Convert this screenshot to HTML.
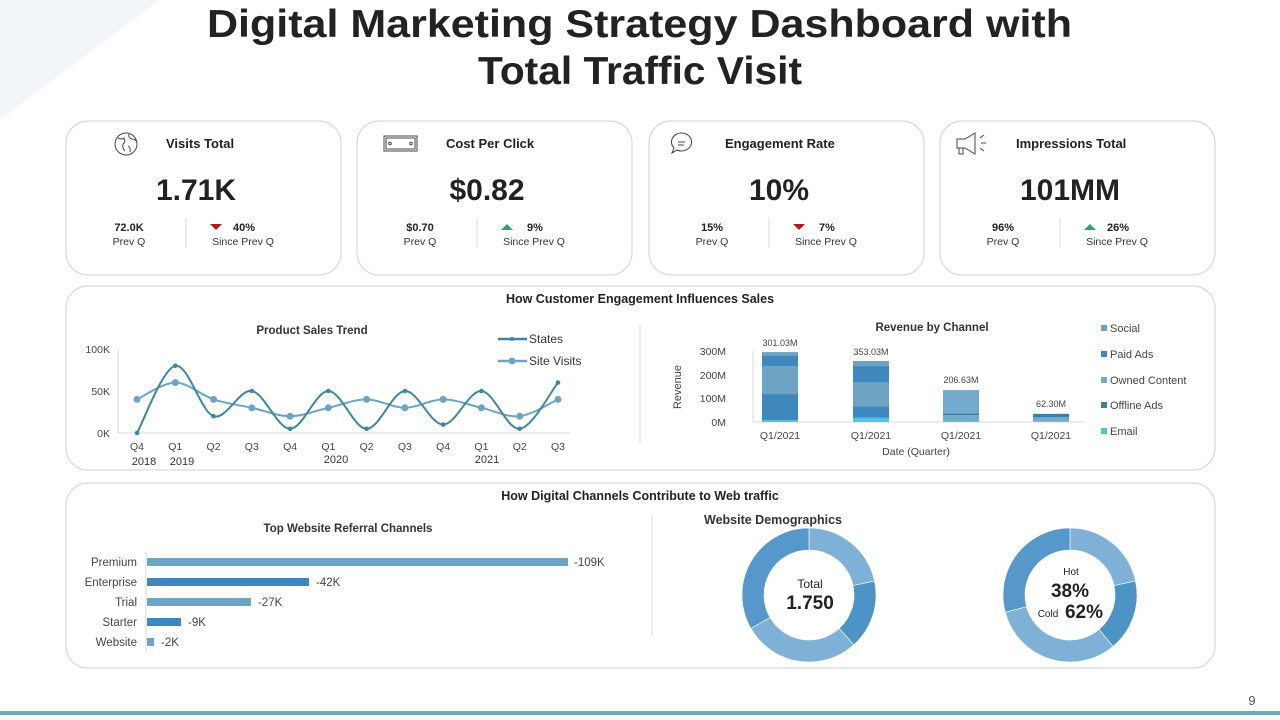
<!DOCTYPE html>
<html><head><meta charset="utf-8"><style>
html,body{margin:0;padding:0;background:#fff;}
svg{display:block;font-family:"Liberation Sans",Arial,sans-serif;}
</style></head><body>
<svg id="s" width="1280" height="720" viewBox="0 0 1280 720" xmlns="http://www.w3.org/2000/svg">
<polygon points="0,0 160,0 0,120" fill="#f3f6f9"/>
<text x="207" y="37" font-size="39" font-weight="bold" fill="#222" textLength="865" lengthAdjust="spacingAndGlyphs">Digital Marketing Strategy Dashboard with</text>
<text x="478" y="84" font-size="39" font-weight="bold" fill="#222" textLength="324" lengthAdjust="spacingAndGlyphs">Total Traffic Visit</text>

<g fill="#fff" stroke="#d9d9d9" stroke-width="1.2">
<rect x="66" y="121" width="275" height="154" rx="22"/>
<rect x="357" y="121" width="275" height="154" rx="22"/>
<rect x="649" y="121" width="275" height="154" rx="22"/>
<rect x="940" y="121" width="275" height="154" rx="22"/>
<rect x="66" y="286" width="1149" height="184" rx="22"/>
<rect x="66" y="483" width="1149" height="185" rx="22"/>
</g>
<g id="cards"></g>

<g fill="none" stroke="#444" stroke-width="1">
<circle cx="126" cy="144" r="11"/>
<path d="M118 138 q4 2 6 0 q2 4 -1 6 q-1 4 2 7 M129 134 q-1 4 3 5 q3 0 5 3 M128 146 q3 2 2 6"/>
<rect x="384" y="136" width="33" height="15"/><rect x="386" y="138" width="29" height="11"/>
<circle cx="390" cy="143.5" r="1.3"/><circle cx="411" cy="143.5" r="1.3"/>
<path d="M682 133 a10 9 0 1 1 -5 17 l-5 3 l2 -5 a10 9 0 0 1 8 -15z M678 142 h7 M678 145 h6"/>
<path d="M957 139 h8 l10 -6 v21 l-10 -6 h-8z M959 148 v6 h4 v-6 M980 138 l4 -3 M981 143 h5 M980 148 l4 3"/>
</g>

<text x="640" y="303" text-anchor="middle" font-size="12.5" font-weight="bold" fill="#222">How Customer Engagement Influences Sales</text>
<text x="640" y="500" text-anchor="middle" font-size="12.5" font-weight="bold" fill="#222">How Digital Channels Contribute to Web traffic</text>
<line x1="640" y1="325" x2="640" y2="442" stroke="#d9d9d9"/>
<line x1="652" y1="515" x2="652" y2="636" stroke="#d9d9d9"/>

<text x="312" y="334" text-anchor="middle" font-size="11.5" font-weight="bold" fill="#333">Product Sales Trend</text>
<g font-size="10.5" fill="#444" text-anchor="end">
<text x="110" y="353">100K</text><text x="110" y="395">50K</text><text x="110" y="437">0K</text></g>
<line x1="118" y1="349" x2="118" y2="433" stroke="#d9d9d9"/>
<line x1="118" y1="433" x2="570" y2="433" stroke="#d9d9d9"/>
<g id="lc"></g>
<g font-size="10.5" fill="#444" text-anchor="middle" id="lx"></g>
<g font-size="11" fill="#333" text-anchor="middle">
<text x="144" y="465">2018</text><text x="182" y="465">2019</text><text x="336" y="463">2020</text><text x="487" y="463">2021</text></g>
<g stroke-width="2.5">
<line x1="498" y1="339" x2="527" y2="339" stroke="#3e86a6"/><circle cx="512" cy="339" r="2" fill="#3e86a6"/>
<line x1="498" y1="361" x2="527" y2="361" stroke="#6fa3c4"/><circle cx="512" cy="361" r="3.5" fill="#6fa3c4"/>
</g>
<text x="529" y="343" font-size="12" fill="#333">States</text>
<text x="529" y="365" font-size="12" fill="#333">Site Visits</text>

<text x="932" y="331" text-anchor="middle" font-size="11.5" font-weight="bold" fill="#333">Revenue by Channel</text>
<g font-size="10.5" fill="#444" text-anchor="end">
<text x="726" y="355">300M</text><text x="726" y="379">200M</text><text x="726" y="402">100M</text><text x="726" y="426">0M</text></g>
<text transform="translate(681 387) rotate(-90)" text-anchor="middle" font-size="11" fill="#444">Revenue</text>
<line x1="753" y1="351" x2="753" y2="422" stroke="#d9d9d9"/>
<line x1="753" y1="422" x2="1085" y2="422" stroke="#d9d9d9"/>
<g id="bc"></g>
<g font-size="10.5" fill="#444" text-anchor="middle">
<text x="780" y="439">Q1/2021</text><text x="871" y="439">Q1/2021</text><text x="961" y="439">Q1/2021</text><text x="1051" y="439">Q1/2021</text>
<text x="916" y="455">Date (Quarter)</text></g>
<g font-size="9" fill="#444" text-anchor="middle">
<text x="780" y="346">301.03M</text><text x="871" y="355">353.03M</text><text x="961" y="383">206.63M</text><text x="1051" y="407">62.30M</text></g>
<g font-size="11" fill="#444">
<rect x="1101" y="325" width="6" height="6" fill="#6fa3c4"/><text x="1110" y="332">Social</text>
<rect x="1101" y="351" width="6" height="6" fill="#3f88bd"/><text x="1110" y="358">Paid Ads</text>
<rect x="1101" y="377" width="6" height="6" fill="#74aacc"/><text x="1110" y="384">Owned Content</text>
<rect x="1101" y="402" width="6" height="6" fill="#3a7fa8"/><text x="1110" y="409">Offline Ads</text>
<rect x="1101" y="428" width="6" height="6" fill="#4fc3e0"/><text x="1110" y="435">Email</text></g>

<text x="348" y="532" text-anchor="middle" font-size="11.5" font-weight="bold" fill="#333">Top Website Referral Channels</text>
<line x1="146" y1="552" x2="146" y2="652" stroke="#d9d9d9"/>
<g font-size="11.5" fill="#444">
<g text-anchor="end"><text x="137" y="566">Premium</text><text x="137" y="586">Enterprise</text><text x="137" y="606">Trial</text><text x="137" y="626">Starter</text><text x="137" y="646">Website</text></g>
<rect x="147" y="558" width="421" height="8" fill="#6fa3c4"/><text x="574" y="566">-109K</text>
<rect x="147" y="578" width="162" height="8" fill="#3f88bd"/><text x="316" y="586">-42K</text>
<rect x="147" y="598" width="104" height="8" fill="#6fa3c4"/><text x="258" y="606">-27K</text>
<rect x="147" y="618" width="34" height="8" fill="#3f88bd"/><text x="188" y="626">-9K</text>
<rect x="147" y="638" width="7" height="8" fill="#6fa3c4"/><text x="161" y="646">-2K</text>
</g>

<text x="704" y="524" font-size="12.5" font-weight="bold" fill="#333">Website Demographics</text>
<g id="dn"></g>
<g text-anchor="middle" fill="#222">
<text x="810" y="588" font-size="12">Total</text>
<text x="810" y="609" font-size="19" font-weight="bold">1.750</text>
<text x="1071" y="575" font-size="10">Hot</text>
<text x="1070" y="597" font-size="19" font-weight="bold">38%</text>
<text x="1048" y="617" font-size="10">Cold</text>
<text x="1084" y="618" font-size="19" font-weight="bold">62%</text>
</g>

<text x="1252" y="705" text-anchor="middle" font-size="13" fill="#555">9</text>
<rect x="0" y="711" width="1280" height="4" fill="#6fa8b8"/>
</svg>
<script>
var NS="http://www.w3.org/2000/svg";
function el(p,t,a,txt){var e=document.createElementNS(NS,t);for(var k in a)e.setAttribute(k,a[k]);if(txt!=null)e.textContent=txt;p.appendChild(e);return e;}
var cg=document.getElementById('cards');
var C=[["Visits Total","1.71K","72.0K","40%",0,166],["Cost Per Click","$0.82","$0.70","9%",1,446],["Engagement Rate","10%","15%","7%",0,725],["Impressions Total","101MM","96%","26%",1,1016]];
var xs=[66,357,649,940];
C.forEach(function(c,i){var x=xs[i];
el(cg,'text',{x:c[5],y:148,'font-size':13,'font-weight':'bold',fill:'#222'},c[0]);
el(cg,'text',{x:x+130,y:200,'text-anchor':'middle','font-size':30,'font-weight':'bold',fill:'#222'},c[1]);
el(cg,'text',{x:x+63,y:231,'text-anchor':'middle','font-size':11,'font-weight':'bold',fill:'#222'},c[2]);
el(cg,'text',{x:x+63,y:245,'text-anchor':'middle','font-size':10.5,fill:'#333'},"Prev Q");
el(cg,'line',{x1:x+120,y1:218,x2:x+120,y2:248,stroke:'#d9d9d9'});
el(cg,'text',{x:x+178,y:231,'text-anchor':'middle','font-size':11,'font-weight':'bold',fill:'#222'},c[3]);
el(cg,'text',{x:x+177,y:245,'text-anchor':'middle','font-size':10.5,fill:'#333'},"Since Prev Q");
var ax=x+150;
if(c[4])el(cg,'polygon',{points:(ax-6)+',230 '+(ax+6)+',230 '+ax+',224',fill:'#2ea36a'});
else el(cg,'polygon',{points:(ax-6)+',224 '+(ax+6)+',224 '+ax+',230',fill:'#b01a1a'});
});
var lc=document.getElementById('lc'),lx=document.getElementById('lx');
var X=[],labs=["Q4","Q1","Q2","Q3","Q4","Q1","Q2","Q3","Q4","Q1","Q2","Q3"];
for(var i=0;i<12;i++){X.push(137+i*38.27);el(lx,'text',{x:X[i],y:450},labs[i]);}
function Y(v){return 433-v*0.84;}
function path(vals){var P=vals.map(function(v,i){return [X[i],Y(v)];});var d="M"+P[0][0]+" "+P[0][1];
for(var i=0;i<P.length-1;i++){var p0=P[Math.max(0,i-1)],p1=P[i],p2=P[i+1],p3=P[Math.min(P.length-1,i+2)];
d+=" C"+(p1[0]+(p2[0]-p0[0])/6)+" "+(p1[1]+(p2[1]-p0[1])/6)+" "+(p2[0]-(p3[0]-p1[0])/6)+" "+(p2[1]-(p3[1]-p1[1])/6)+" "+p2[0]+" "+p2[1];}return d;}
var S=[0,80,20,50,5,50,5,50,10,50,5,60],V=[40,60,40,30,20,30,40,30,40,30,20,40];
el(lc,'path',{d:path(V),fill:'none',stroke:'#6fa3c4','stroke-width':2});
el(lc,'path',{d:path(S),fill:'none',stroke:'#3e86a6','stroke-width':2});
V.forEach(function(v,i){el(lc,'circle',{cx:X[i],cy:Y(v),r:3.5,fill:'#6fa3c4'});});
S.forEach(function(v,i){el(lc,'circle',{cx:X[i],cy:Y(v),r:2.3,fill:'#3e86a6'});});
var bc=document.getElementById('bc');
var B=[[780,[[0,8,'#4fc3e0'],[8,120,'#3f88bd'],[120,240,'#6fa3c4'],[240,285,'#3f88bd'],[285,300,'#6fa3c4']]],
[871,[[0,18,'#4fc3e0'],[18,68,'#3f88bd'],[68,170,'#6fa3c4'],[170,240,'#3f88bd'],[240,262,'#6fa3c4']]],
[961,[[0,4,'#4fc3e0'],[4,30,'#74aacc'],[30,37,'#3a7fa8'],[37,137,'#74aacc']]],
[1051,[[0,3,'#4fc3e0'],[3,20,'#74aacc'],[20,35,'#3a7fa8']]]];
B.forEach(function(b){b[1].forEach(function(s){var y1=422-s[1]*0.233,y0=422-s[0]*0.233;el(bc,'rect',{x:b[0]-18,y:y1,width:36,height:y0-y1,fill:s[2]});});});
var dn=document.getElementById('dn');
function arc(cx,cy,R,r,a0,a1,col){function pt(rad,a){a=(a-90)*Math.PI/180;return [cx+rad*Math.cos(a),cy+rad*Math.sin(a)];}
var l=(a1-a0)>180?1:0,p1=pt(R,a0),p2=pt(R,a1),p3=pt(r,a1),p4=pt(r,a0);
el(dn,'path',{d:"M"+p1+" A"+R+" "+R+" 0 "+l+" 1 "+p2+" L"+p3+" A"+r+" "+r+" 0 "+l+" 0 "+p4+"Z",fill:col,stroke:'#fff','stroke-width':0.6});}
[[809,[[0,78,'#7fb1d6'],[78,138,'#4d94c6'],[138,240,'#7fb1d6'],[240,360,'#5598c9']]],
 [1070,[[0,78,'#7fb1d6'],[78,140,'#4d94c6'],[140,255,'#7fb1d6'],[255,360,'#5598c9']]]].forEach(function(d){
 d[1].forEach(function(s){arc(d[0],595,67,45,s[0],s[1],s[2]);});});
</script>
</body></html>
